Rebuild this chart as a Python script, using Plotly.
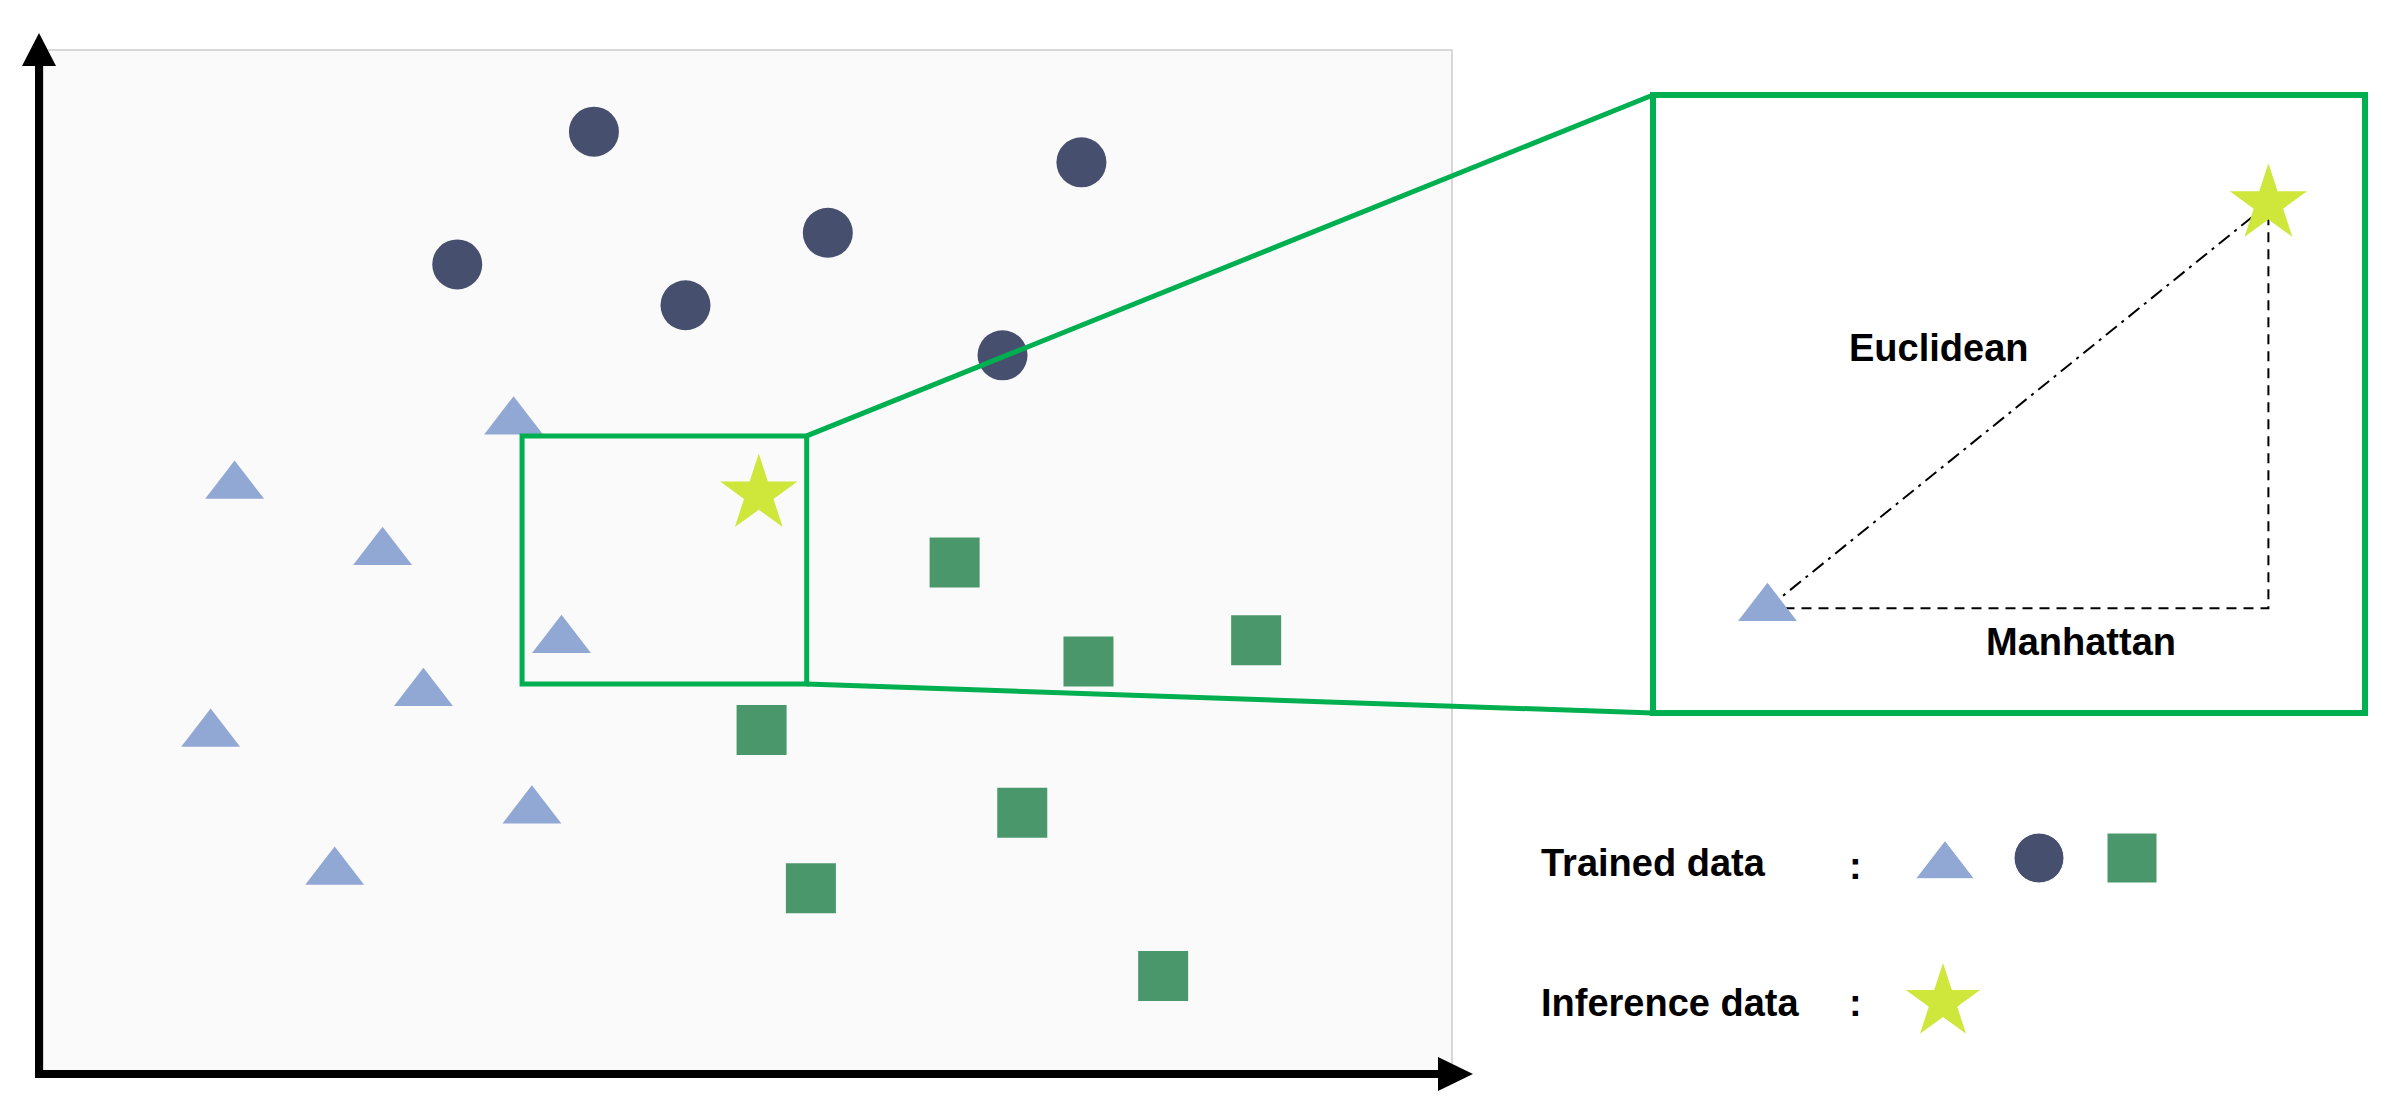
import plotly.graph_objects as go

W, H = 2400, 1103

# trained data, in plot units (0-100 on both axes)
circle_x = [39.1, 73.7, 29.4, 55.7, 45.6, 68.1]
circle_y = [92.0, 89.0, 79.0, 82.1, 75.0, 70.1]

triangle_x = [33.4, 13.6, 24.1, 36.8, 27.0, 11.9, 34.7, 20.7]
triangle_y = [63.6, 57.3, 50.8, 42.2, 37.0, 33.0, 25.5, 19.5]

square_x = [64.7, 74.2, 86.1, 51.0, 69.5, 54.5, 79.5]
square_y = [49.8, 40.1, 42.2, 33.4, 25.3, 17.9, 9.3]

# inference data
star_x = [50.8]
star_y = [56.5]

# region around the inference point that gets magnified
zoom_box_x = [34.0, 54.2]
zoom_box_y = [37.9, 62.2]
nearest = 3  # triangle shown in the inset

CIRCLE_C = "#474f6e"
TRIANGLE_C = "#91a7d4"
SQUARE_C = "#4a976b"
STAR_C = "#cfe63b"
GREEN = "#00b050"
FONT = "Liberation Sans, Arial, sans-serif"

main_dom_x = [43 / W, 1452 / W]
main_dom_y = [1 - 1071 / H, 1 - 50 / H]
inset_dom_x = [1653 / W, 2365 / W]
inset_dom_y = [1 - 713 / H, 1 - 95 / H]


def px(x, y):
    """figure pixel -> paper coords"""
    return x / W, 1 - y / H


def to_paper(x, y):
    """main plot units -> paper coords"""
    return (main_dom_x[0] + x / 100 * (main_dom_x[1] - main_dom_x[0]),
            main_dom_y[0] + y / 100 * (main_dom_y[1] - main_dom_y[0]))


def path(points, close=False):
    s = "M " + " L ".join("%.5f %.5f" % px(*p) for p in points)
    return s + (" Z" if close else "")


fig = go.Figure()

# main scatter
fig.add_trace(go.Scatter(x=circle_x, y=circle_y, mode="markers",
                         marker=dict(symbol="circle", size=50, color=CIRCLE_C, opacity=1)))
fig.add_trace(go.Scatter(x=triangle_x, y=triangle_y, mode="markers",
                         marker=dict(symbol="triangle-up", size=51, color=TRIANGLE_C, opacity=1)))
fig.add_trace(go.Scatter(x=square_x, y=square_y, mode="markers",
                         marker=dict(symbol="square", size=50, color=SQUARE_C, opacity=1)))
fig.add_trace(go.Scatter(x=star_x, y=star_y, mode="markers",
                         marker=dict(symbol="star", size=58, color=STAR_C, opacity=1)))

# inset: distances between the inference point and its nearest neighbour
tx, ty = triangle_x[nearest], triangle_y[nearest]
sx, sy = star_x[0], star_y[0]
fig.add_trace(go.Scatter(x=[tx, sx], y=[ty, sy], mode="lines",
                         line=dict(color="black", width=2, dash="14px,6px,3px,6px"),
                         xaxis="x2", yaxis="y2"))
fig.add_trace(go.Scatter(x=[tx, sx, sx], y=[ty, ty, sy], mode="lines",
                         line=dict(color="black", width=2, dash="10px,7px"),
                         xaxis="x2", yaxis="y2"))
fig.add_trace(go.Scatter(x=[tx], y=[ty], mode="markers", xaxis="x2", yaxis="y2",
                         marker=dict(symbol="triangle-up", size=51, color=TRIANGLE_C, opacity=1)))
fig.add_trace(go.Scatter(x=[sx], y=[sy], mode="markers", xaxis="x2", yaxis="y2",
                         marker=dict(symbol="star", size=58, color=STAR_C, opacity=1)))

# legend symbols
leg = [px(1945, 866), px(2039, 858), px(2132, 858), px(1943, 1002)]
fig.add_trace(go.Scatter(x=[p[0] for p in leg], y=[p[1] for p in leg], mode="markers",
                         xaxis="x3", yaxis="y3",
                         marker=dict(symbol=["triangle-up", "circle", "square", "star"],
                                     size=[51, 50, 50, 58], opacity=1,
                                     color=[TRIANGLE_C, CIRCLE_C, SQUARE_C, STAR_C])))

shapes = [
    dict(type="rect", xref="paper", yref="paper", layer="below",
         x0=main_dom_x[0], x1=main_dom_x[1], y0=main_dom_y[0], y1=main_dom_y[1],
         fillcolor="#fafafa", line=dict(color="#cccccc", width=1.5)),
    # axes with arrows
    dict(type="path", xref="paper", yref="paper",
         path=path([(39, 62), (39, 1074), (1442, 1074)]),
         line=dict(color="black", width=8)),
    dict(type="path", xref="paper", yref="paper",
         path=path([(22, 66), (39, 33), (56, 66)], close=True),
         fillcolor="black", line=dict(width=0)),
    dict(type="path", xref="paper", yref="paper",
         path=path([(1438, 1057), (1473, 1074), (1438, 1091)], close=True),
         fillcolor="black", line=dict(width=0)),
    # zoom region and inset frame
    dict(type="rect", xref="x", yref="y",
         x0=zoom_box_x[0], x1=zoom_box_x[1], y0=zoom_box_y[0], y1=zoom_box_y[1],
         line=dict(color=GREEN, width=5)),
    dict(type="rect", xref="paper", yref="paper",
         x0=inset_dom_x[0], x1=inset_dom_x[1], y0=inset_dom_y[0], y1=inset_dom_y[1],
         line=dict(color=GREEN, width=6)),
]
for zy, iy in [(zoom_box_y[1], inset_dom_y[1]), (zoom_box_y[0], inset_dom_y[0])]:
    x0, y0 = to_paper(zoom_box_x[1], zy)
    shapes.append(dict(type="line", xref="paper", yref="paper",
                       x0=x0, y0=y0, x1=inset_dom_x[0], y1=iy,
                       line=dict(color=GREEN, width=5)))

labels = [
    ("Euclidean", 1939, 348, "center"),
    ("Manhattan", 2081, 642, "center"),
    ("Trained data", 1539, 863, "left"),
    (":", 1855, 866, "center"),
    ("Inference data", 1539, 1003, "left"),
    (":", 1855, 1003, "center"),
]
annotations = []
for text, x, y, anchor in labels:
    ax, ay = px(x, y)
    annotations.append(dict(text="<b>%s</b>" % text, x=ax, y=ay, xref="paper", yref="paper",
                            xanchor=anchor, yanchor="middle", showarrow=False,
                            font=dict(family=FONT, size=38, color="black")))

hidden = dict(visible=False, fixedrange=True)
fig.update_layout(
    width=W, height=H,
    margin=dict(l=0, r=0, t=0, b=0, pad=0),
    paper_bgcolor="white", plot_bgcolor="rgba(0,0,0,0)",
    showlegend=False,
    xaxis=dict(domain=main_dom_x, range=[0, 100], **hidden),
    yaxis=dict(domain=main_dom_y, range=[0, 100], **hidden),
    xaxis2=dict(domain=inset_dom_x, range=[33.6, 53.5], anchor="y2", **hidden),
    yaxis2=dict(domain=inset_dom_y, range=[38.5, 60.35], anchor="x2", **hidden),
    xaxis3=dict(domain=[0, 1], range=[0, 1], anchor="y3", **hidden),
    yaxis3=dict(domain=[0, 1], range=[0, 1], anchor="x3", **hidden),
    shapes=shapes,
    annotations=annotations,
)

fig.write_html("out.html", config={"displayModeBar": False},
               post_script="document.body.style.margin='0';")
